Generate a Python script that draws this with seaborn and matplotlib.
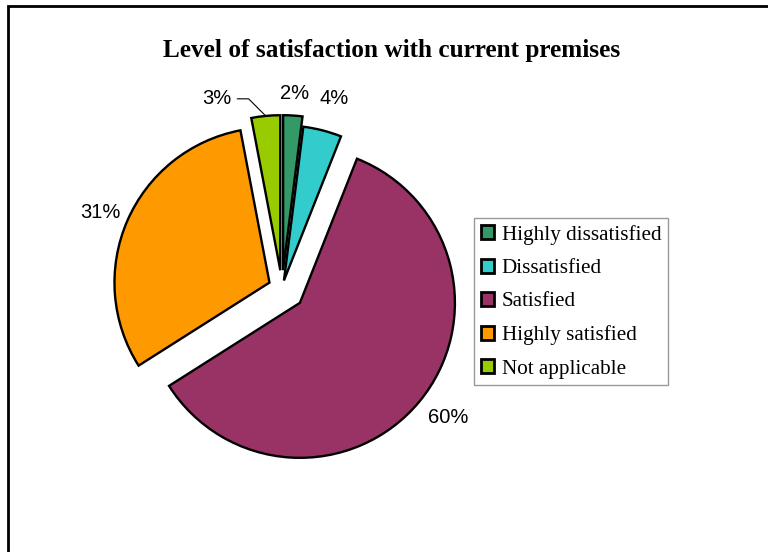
import numpy as np
import matplotlib
matplotlib.use("Agg")
import matplotlib.pyplot as plt
import seaborn as sns
from matplotlib.patches import Rectangle

categories = ["Highly dissatisfied", "Dissatisfied", "Satisfied",
              "Highly satisfied", "Not applicable"]
values = [2, 4, 60, 31, 3]
pct_labels = ["2%", "4%", "60%", "31%", "3%"]
colors = ["#339966", "#33CCCC", "#993366", "#FF9900", "#99CC00"]
explode = [0.115, 0.05, 0.15, 0.088, 0.115]
label_dist = [1.14, 1.22, 1.21, 1.18, 1.18]
label_angle_shift = [0.0, -1.0, 2.0, 1.0, 15.0]
title = "Level of satisfaction with current premises"

sns.set_theme(style="white")
plt.rcParams["font.family"] = ["Liberation Sans", "DejaVu Sans"]
plt.rcParams["text.color"] = "black"

W, H, DPI = 768, 552, 100
fig = plt.figure(figsize=(W / DPI, H / DPI), dpi=DPI)
ax = fig.add_axes([0, 0, 1, 1])

R_PX = 155.0
CX, CY = 282.0, 288.0

wedges, _ = ax.pie(values, explode=explode, colors=colors, startangle=90,
                   counterclock=False, radius=1.0,
                   wedgeprops=dict(edgecolor="black", linewidth=1.7))

ax.set_xlim(-CX / R_PX, (W - CX) / R_PX)
ax.set_ylim(-(H - CY) / R_PX, CY / R_PX)
ax.set_aspect("auto")
ax.axis("off")

for i, w in enumerate(wedges):
    mid = np.deg2rad((w.theta1 + w.theta2) / 2)
    cx, cy = w.center
    ang = mid + np.deg2rad(label_angle_shift[i])
    tx = cx + label_dist[i] * np.cos(ang)
    ty = cy + label_dist[i] * np.sin(ang)
    if i == 4:
        ex, ey = cx + np.cos(mid), cy + np.sin(mid)
        ax.annotate(pct_labels[i], xy=(ex, ey), xytext=(tx, ty),
                    ha="center", va="center", fontsize=14.5, color="black",
                    arrowprops=dict(arrowstyle="-", color="black", lw=0.8,
                                    shrinkA=2, shrinkB=0,
                                    connectionstyle="angle,angleA=0,angleB=-45"))
    else:
        ax.text(tx, ty, pct_labels[i], ha="center", va="center",
                fontsize=14.5, color="black")

fig.text(392 / W, 1 - 50 / H, title, ha="center", va="center", color="black",
         fontsize=18.2, fontweight="bold", family=["Liberation Serif"])

leg = fig.legend(wedges, categories, loc="upper left",
                 bbox_to_anchor=(474 / W, 1 - 218 / H), borderaxespad=0,
                 prop=dict(family="Liberation Serif", size=15.2),
                 frameon=True, fancybox=False, shadow=False,
                 handlelength=0.65, handleheight=0.65, handletextpad=0.35,
                 labelspacing=0.66, borderpad=0.32)
leg.get_frame().set_edgecolor("#808080")
leg.get_frame().set_linewidth(1.0)
for h in leg.legend_handles:
    h.set_linewidth(2.0)
for t in leg.get_texts():
    t.set_color("black")

fig.patches.append(Rectangle((7.5 / W, -0.1), 1.2, 1.1 - 6 / H,
                             transform=fig.transFigure, fill=False,
                             edgecolor="black", linewidth=2.0))

fig.savefig("out.png", dpi=DPI)
